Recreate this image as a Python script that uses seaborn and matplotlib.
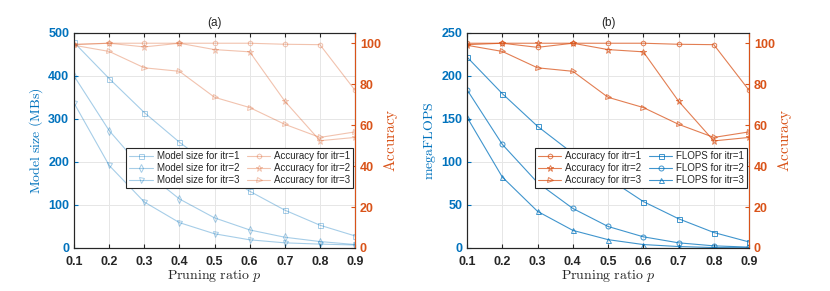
import numpy as np
import pandas as pd
import matplotlib
matplotlib.use("Agg")
import matplotlib.pyplot as plt
import seaborn as sns

# pruning ratios
ratio = [0.1, 0.2, 0.3, 0.4, 0.5, 0.6, 0.7, 0.8, 0.9]

# (a) model size in MBs
size_itr1 = [478, 394, 315, 246, 185, 132, 88, 53, 28]
size_itr2 = [400, 273, 179, 114, 70, 42, 25, 15, 8]
size_itr3 = [337, 192, 107, 59, 33, 19, 12, 9, 7]

# (a) accuracy
acc_a_itr1 = [99.3, 100, 100, 100, 100, 100, 99.5, 99.3, 77]
acc_a_itr2 = [99.5, 100, 98.2, 100, 96.9, 95.8, 71.7, 52.4, 54]
acc_a_itr3 = [99, 96, 88, 86.3, 73.6, 68.6, 60.4, 54, 56.7]

# (b) megaFLOPS
flops_itr1 = [222, 179.5, 141.5, 110, 81, 54, 34, 18, 7]
flops_itr2 = [184, 120.5, 76, 46, 25, 13, 6, 2.5, 1]
flops_itr3 = [152, 82.5, 42.6, 20.5, 9.7, 4, 1.7, 0.5, 0.2]

# (b) accuracy
acc_b_itr1 = [100, 100, 98, 100, 100, 100, 99.5, 99.3, 77]
acc_b_itr2 = [99.3, 100, 100, 100, 96.9, 95.8, 71.7, 52.3, 54]
acc_b_itr3 = [99, 96, 88, 86.3, 73.6, 68.6, 60.4, 54, 56.7]

blue = "#0072BD"
orange = "#D95319"

sns.set_style("ticks")
plt.rcParams["font.family"] = ["Liberation Sans", "DejaVu Sans"]
plt.rcParams["mathtext.fontset"] = "cm"
plt.rcParams["axes.edgecolor"] = "#262626"
plt.rcParams["xtick.direction"] = "in"
plt.rcParams["ytick.direction"] = "in"

fig = plt.figure(figsize=(8.3, 2.91), dpi=100)
ax_a = fig.add_axes([0.0892, 0.1478, 0.3386, 0.7388])
ax_b = fig.add_axes([0.5627, 0.1478, 0.3398, 0.7388])


def draw(ax, ys, markers, labels, color, alpha):
    handles = []
    for y, m, lab in zip(ys, markers, labels):
        df = pd.DataFrame({"p": ratio, "v": y})
        ms = 5 if m == "*" else 3.6
        sns.lineplot(data=df, x="p", y="v", ax=ax, color=color, alpha=alpha,
                     marker=m, markersize=ms, mfc="none", mec=color,
                     mew=0.7, lw=0.8, label=lab, legend=False)
        handles.append(ax.lines[-1])
    return handles


def style_axes(ax, ax2, ymax, yticks, ylabel, title):
    ax.set_xlim(0.1, 0.9)
    ax.set_xticks(ratio)
    ax.set_xticklabels([f"{r:.1f}" for r in ratio])
    ax.set_ylim(0, ymax)
    ax.set_yticks(yticks)
    ax.grid(True, color="#e6e6e6", lw=0.7)
    ax.set_axisbelow(True)
    ax.tick_params(axis="x", labelsize=9, length=3, pad=6, colors="#262626", top=True)
    ax.tick_params(axis="y", labelsize=9, length=3, colors=blue)
    for lab in ax.get_xticklabels() + ax.get_yticklabels():
        lab.set_fontweight("bold")
    ax.set_xlabel(r"$\mathrm{Pruning\ ratio}\ p$", fontsize=10, labelpad=0)
    ax.set_ylabel(ylabel, fontsize=10, color=blue, labelpad=2)
    ax.set_title(title, fontsize=8.5, pad=5)

    ax2.set_ylim(0, 105)
    ax2.set_yticks([0, 20, 40, 60, 80, 100])
    ax2.tick_params(axis="y", labelsize=9, length=3, colors=orange)
    for lab in ax2.get_yticklabels():
        lab.set_fontweight("bold")
    ax2.spines["right"].set_color(orange)
    ax2.set_ylabel(r"$\mathrm{Accuracy}$", fontsize=11, color=orange, labelpad=1)
    ax2.set_xlabel("")
    ax2.grid(False)


def add_legend(ax, handles):
    leg = ax.legend(handles, [h.get_label() for h in handles],
                    ncol=2, loc="lower right", bbox_to_anchor=(0.993, 0.279),
                    fontsize=7, frameon=True, fancybox=False, framealpha=1,
                    edgecolor="#262626", borderpad=0.3, labelspacing=0.2,
                    handlelength=2.4, handletextpad=0.4, columnspacing=0.8,
                    borderaxespad=0, numpoints=1)
    leg.get_frame().set_linewidth(0.8)


# panel (a)
ax_a2 = ax_a.twinx()
h_size = draw(ax_a, [size_itr1, size_itr2, size_itr3], ["s", "d", "v"],
              ["Model size for itr=1", "Model size for itr=2", "Model size for itr=3"],
              blue, 0.35)
h_acc_a = draw(ax_a2, [acc_a_itr1, acc_a_itr2, acc_a_itr3], ["h", "*", ">"],
               ["Accuracy for itr=1", "Accuracy for itr=2", "Accuracy for itr=3"],
               orange, 0.35)
style_axes(ax_a, ax_a2, 500, [0, 100, 200, 300, 400, 500],
           r"$\mathrm{Model\ size\ (MBs)}$", "(a)")
add_legend(ax_a2, h_size + h_acc_a)

# panel (b)
ax_b2 = ax_b.twinx()
h_flops = draw(ax_b, [flops_itr1, flops_itr2, flops_itr3], ["s", "o", "^"],
               ["FLOPS for itr=1", "FLOPS for itr=2", "FLOPS for itr=3"],
               blue, 0.75)
h_acc_b = draw(ax_b2, [acc_b_itr1, acc_b_itr2, acc_b_itr3], ["h", "*", ">"],
               ["Accuracy for itr=1", "Accuracy for itr=2", "Accuracy for itr=3"],
               orange, 0.75)
style_axes(ax_b, ax_b2, 250, [0, 50, 100, 150, 200, 250],
           r"$\mathrm{megaFLOPS}$", "(b)")
add_legend(ax_b2, h_acc_b + h_flops)

fig.savefig("out.png", dpi=100)
